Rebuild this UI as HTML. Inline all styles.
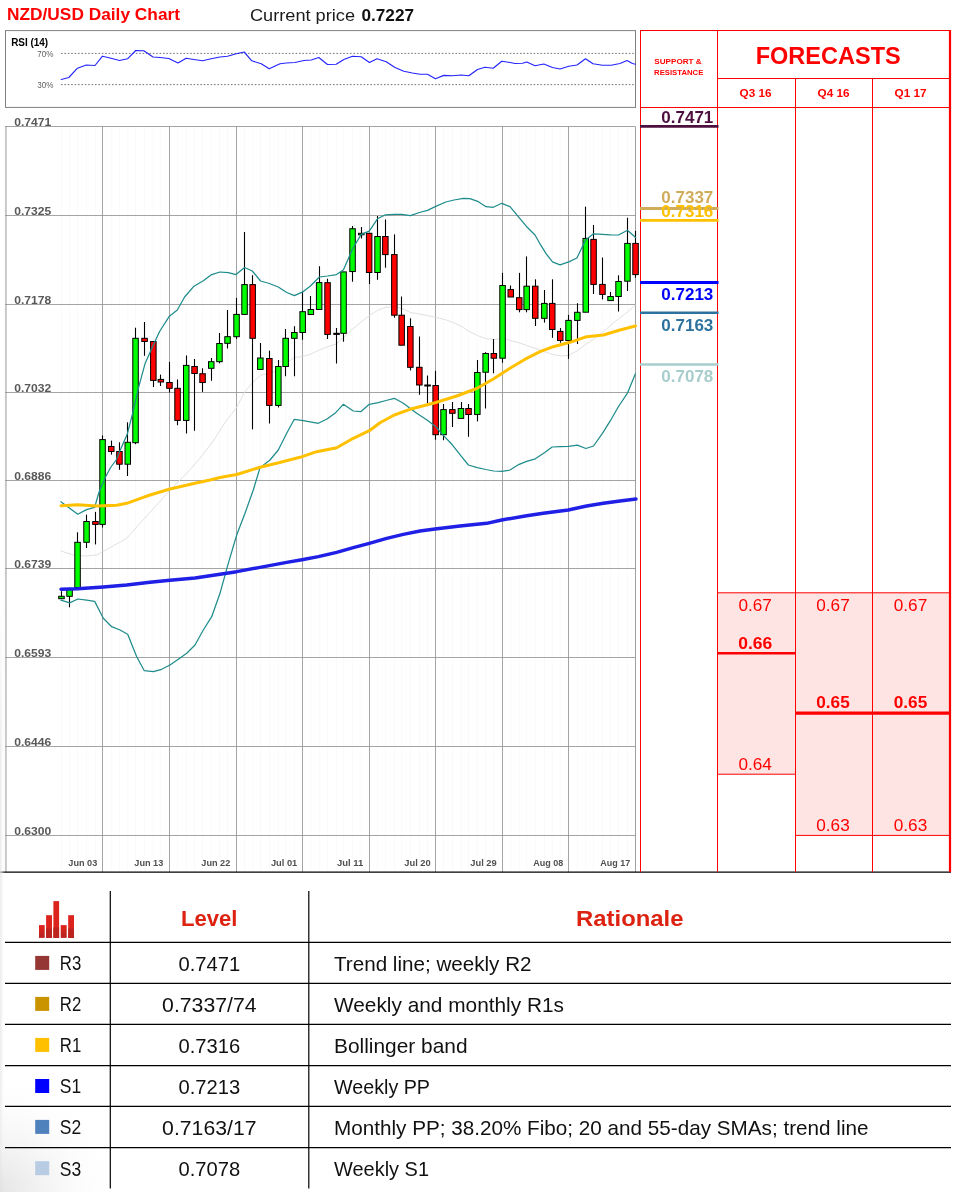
<!DOCTYPE html>
<html><head><meta charset="utf-8"><title>NZD/USD Daily Chart</title>
<style>
html,body{margin:0;padding:0;background:#fff;}
svg{display:block;font-family:"Liberation Sans", sans-serif;}
</style></head><body>
<svg width="960" height="1192" viewBox="0 0 960 1192">
<rect width="960" height="1192" fill="#fff"/>
<text x="7" y="20" font-size="15.8" fill="#ff0000" font-weight="bold" textLength="173" lengthAdjust="spacingAndGlyphs">NZD/USD Daily Chart</text>
<text x="250" y="20.5" font-size="16.2" fill="#1a1a1a" textLength="105" lengthAdjust="spacingAndGlyphs">Current price</text>
<text x="361.5" y="20.5" font-size="16.2" fill="#111" font-weight="bold" textLength="52.5" lengthAdjust="spacingAndGlyphs">0.7227</text>
<rect x="5.5" y="30.6" width="630.0" height="76.8" fill="#fff" stroke="#808080" stroke-width="1"/>
<line x1="61" y1="53.4" x2="635.5" y2="53.4" stroke="#666" stroke-width="0.9" stroke-dasharray="1.6 1.8"/>
<line x1="61" y1="84.6" x2="635.5" y2="84.6" stroke="#666" stroke-width="0.9" stroke-dasharray="1.6 1.8"/>
<text x="11.2" y="46.3" font-size="10.6" fill="#000" font-weight="bold" textLength="37" lengthAdjust="spacingAndGlyphs">RSI (14)</text>
<text x="37.2" y="56.9" font-size="8.9" fill="#606060" textLength="16.2" lengthAdjust="spacingAndGlyphs">70%</text>
<text x="37.2" y="87.9" font-size="8.9" fill="#606060" textLength="16.2" lengthAdjust="spacingAndGlyphs">30%</text>
<polyline points="61.2,79.5 68.8,77.5 77.5,68.2 86.2,65.0 95.0,65.5 102.5,56.2 110.0,58.0 119.5,60.5 127.5,58.8 135.8,50.5 143.8,50.8 153.0,57.0 160.0,57.5 168.8,58.5 178.0,63.0 186.2,58.2 193.8,59.5 202.5,60.8 211.2,58.8 220.0,57.0 227.5,56.2 236.2,53.8 244.2,52.0 251.8,60.8 261.2,63.8 269.2,68.8 280.0,63.8 286.2,63.0 295.0,62.5 303.8,60.5 311.2,60.0 318.8,57.5 327.5,64.5 336.2,64.2 343.8,59.5 352.5,56.2 361.2,56.8 369.5,62.5 377.0,58.8 386.2,61.8 395.0,67.5 403.8,71.2 412.5,73.0 420.0,74.2 427.5,74.2 435.5,78.8 443.8,75.4 452.5,75.8 461.2,75.0 468.8,75.8 477.5,69.5 485.0,67.2 493.2,68.2 501.8,61.2 510.0,62.5 515.0,63.5 522.5,63.2 526.8,62.0 535.0,65.8 543.8,64.0 552.5,67.5 560.0,69.0 568.8,66.2 577.0,65.0 585.5,58.8 593.0,63.8 602.5,65.2 611.2,65.2 620.0,63.5 627.0,60.5 632.5,63.5 635.5,64.2" fill="none" stroke="#2424ff" stroke-width="1.15" stroke-linejoin="round" stroke-linecap="round"/>
<line x1="61.5" y1="126.5" x2="61.5" y2="872.2" stroke="#fafafa" stroke-width="1"/>
<line x1="69.6" y1="126.5" x2="69.6" y2="872.2" stroke="#fafafa" stroke-width="1"/>
<line x1="77.5" y1="126.5" x2="77.5" y2="872.2" stroke="#fafafa" stroke-width="1"/>
<line x1="86.5" y1="126.5" x2="86.5" y2="872.2" stroke="#fafafa" stroke-width="1"/>
<line x1="95.4" y1="126.5" x2="95.4" y2="872.2" stroke="#fafafa" stroke-width="1"/>
<line x1="111.2" y1="126.5" x2="111.2" y2="872.2" stroke="#fafafa" stroke-width="1"/>
<line x1="119.4" y1="126.5" x2="119.4" y2="872.2" stroke="#fafafa" stroke-width="1"/>
<line x1="127.7" y1="126.5" x2="127.7" y2="872.2" stroke="#fafafa" stroke-width="1"/>
<line x1="135.5" y1="126.5" x2="135.5" y2="872.2" stroke="#fafafa" stroke-width="1"/>
<line x1="144.6" y1="126.5" x2="144.6" y2="872.2" stroke="#fafafa" stroke-width="1"/>
<line x1="153.3" y1="126.5" x2="153.3" y2="872.2" stroke="#fafafa" stroke-width="1"/>
<line x1="160.8" y1="126.5" x2="160.8" y2="872.2" stroke="#fafafa" stroke-width="1"/>
<line x1="177.5" y1="126.5" x2="177.5" y2="872.2" stroke="#fafafa" stroke-width="1"/>
<line x1="186.2" y1="126.5" x2="186.2" y2="872.2" stroke="#fafafa" stroke-width="1"/>
<line x1="194.6" y1="126.5" x2="194.6" y2="872.2" stroke="#fafafa" stroke-width="1"/>
<line x1="202.5" y1="126.5" x2="202.5" y2="872.2" stroke="#fafafa" stroke-width="1"/>
<line x1="211.2" y1="126.5" x2="211.2" y2="872.2" stroke="#fafafa" stroke-width="1"/>
<line x1="219.4" y1="126.5" x2="219.4" y2="872.2" stroke="#fafafa" stroke-width="1"/>
<line x1="227.5" y1="126.5" x2="227.5" y2="872.2" stroke="#fafafa" stroke-width="1"/>
<line x1="244.6" y1="126.5" x2="244.6" y2="872.2" stroke="#fafafa" stroke-width="1"/>
<line x1="252.7" y1="126.5" x2="252.7" y2="872.2" stroke="#fafafa" stroke-width="1"/>
<line x1="260.4" y1="126.5" x2="260.4" y2="872.2" stroke="#fafafa" stroke-width="1"/>
<line x1="269.4" y1="126.5" x2="269.4" y2="872.2" stroke="#fafafa" stroke-width="1"/>
<line x1="278.3" y1="126.5" x2="278.3" y2="872.2" stroke="#fafafa" stroke-width="1"/>
<line x1="285.6" y1="126.5" x2="285.6" y2="872.2" stroke="#fafafa" stroke-width="1"/>
<line x1="294.4" y1="126.5" x2="294.4" y2="872.2" stroke="#fafafa" stroke-width="1"/>
<line x1="310.8" y1="126.5" x2="310.8" y2="872.2" stroke="#fafafa" stroke-width="1"/>
<line x1="319.2" y1="126.5" x2="319.2" y2="872.2" stroke="#fafafa" stroke-width="1"/>
<line x1="327.5" y1="126.5" x2="327.5" y2="872.2" stroke="#fafafa" stroke-width="1"/>
<line x1="336.5" y1="126.5" x2="336.5" y2="872.2" stroke="#fafafa" stroke-width="1"/>
<line x1="343.5" y1="126.5" x2="343.5" y2="872.2" stroke="#fafafa" stroke-width="1"/>
<line x1="352.5" y1="126.5" x2="352.5" y2="872.2" stroke="#fafafa" stroke-width="1"/>
<line x1="361.2" y1="126.5" x2="361.2" y2="872.2" stroke="#fafafa" stroke-width="1"/>
<line x1="377.5" y1="126.5" x2="377.5" y2="872.2" stroke="#fafafa" stroke-width="1"/>
<line x1="385.4" y1="126.5" x2="385.4" y2="872.2" stroke="#fafafa" stroke-width="1"/>
<line x1="394.4" y1="126.5" x2="394.4" y2="872.2" stroke="#fafafa" stroke-width="1"/>
<line x1="401.7" y1="126.5" x2="401.7" y2="872.2" stroke="#fafafa" stroke-width="1"/>
<line x1="410.4" y1="126.5" x2="410.4" y2="872.2" stroke="#fafafa" stroke-width="1"/>
<line x1="419.4" y1="126.5" x2="419.4" y2="872.2" stroke="#fafafa" stroke-width="1"/>
<line x1="427.5" y1="126.5" x2="427.5" y2="872.2" stroke="#fafafa" stroke-width="1"/>
<line x1="443.5" y1="126.5" x2="443.5" y2="872.2" stroke="#fafafa" stroke-width="1"/>
<line x1="452.4" y1="126.5" x2="452.4" y2="872.2" stroke="#fafafa" stroke-width="1"/>
<line x1="461.0" y1="126.5" x2="461.0" y2="872.2" stroke="#fafafa" stroke-width="1"/>
<line x1="468.5" y1="126.5" x2="468.5" y2="872.2" stroke="#fafafa" stroke-width="1"/>
<line x1="477.3" y1="126.5" x2="477.3" y2="872.2" stroke="#fafafa" stroke-width="1"/>
<line x1="485.6" y1="126.5" x2="485.6" y2="872.2" stroke="#fafafa" stroke-width="1"/>
<line x1="493.8" y1="126.5" x2="493.8" y2="872.2" stroke="#fafafa" stroke-width="1"/>
<line x1="510.8" y1="126.5" x2="510.8" y2="872.2" stroke="#fafafa" stroke-width="1"/>
<line x1="519.2" y1="126.5" x2="519.2" y2="872.2" stroke="#fafafa" stroke-width="1"/>
<line x1="526.6" y1="126.5" x2="526.6" y2="872.2" stroke="#fafafa" stroke-width="1"/>
<line x1="535.3" y1="126.5" x2="535.3" y2="872.2" stroke="#fafafa" stroke-width="1"/>
<line x1="544.4" y1="126.5" x2="544.4" y2="872.2" stroke="#fafafa" stroke-width="1"/>
<line x1="552.2" y1="126.5" x2="552.2" y2="872.2" stroke="#fafafa" stroke-width="1"/>
<line x1="560.2" y1="126.5" x2="560.2" y2="872.2" stroke="#fafafa" stroke-width="1"/>
<line x1="577.4" y1="126.5" x2="577.4" y2="872.2" stroke="#fafafa" stroke-width="1"/>
<line x1="585.7" y1="126.5" x2="585.7" y2="872.2" stroke="#fafafa" stroke-width="1"/>
<line x1="593.5" y1="126.5" x2="593.5" y2="872.2" stroke="#fafafa" stroke-width="1"/>
<line x1="602.5" y1="126.5" x2="602.5" y2="872.2" stroke="#fafafa" stroke-width="1"/>
<line x1="610.5" y1="126.5" x2="610.5" y2="872.2" stroke="#fafafa" stroke-width="1"/>
<line x1="618.5" y1="126.5" x2="618.5" y2="872.2" stroke="#fafafa" stroke-width="1"/>
<line x1="627.5" y1="126.5" x2="627.5" y2="872.2" stroke="#fafafa" stroke-width="1"/>
<line x1="5.9" y1="126.0" x2="5.9" y2="872.2" stroke="#c9c9c9" stroke-width="2"/>
<line x1="635.5" y1="126.5" x2="635.5" y2="872.2" stroke="#a0a0a0" stroke-width="1"/>
<line x1="5" y1="126.5" x2="635.5" y2="126.5" stroke="#949494" stroke-width="0.85"/>
<line x1="5" y1="215.5" x2="635.5" y2="215.5" stroke="#949494" stroke-width="0.85"/>
<line x1="5" y1="304.5" x2="635.5" y2="304.5" stroke="#949494" stroke-width="0.85"/>
<line x1="5" y1="392.5" x2="635.5" y2="392.5" stroke="#949494" stroke-width="0.85"/>
<line x1="5" y1="480.5" x2="635.5" y2="480.5" stroke="#949494" stroke-width="0.85"/>
<line x1="5" y1="568.5" x2="635.5" y2="568.5" stroke="#949494" stroke-width="0.85"/>
<line x1="5" y1="657.5" x2="635.5" y2="657.5" stroke="#949494" stroke-width="0.85"/>
<line x1="5" y1="746.5" x2="635.5" y2="746.5" stroke="#949494" stroke-width="0.85"/>
<line x1="5" y1="835.5" x2="635.5" y2="835.5" stroke="#949494" stroke-width="0.85"/>
<line x1="102.5" y1="126.5" x2="102.5" y2="872.2" stroke="#949494" stroke-width="0.85"/>
<line x1="169.5" y1="126.5" x2="169.5" y2="872.2" stroke="#949494" stroke-width="0.85"/>
<line x1="236.5" y1="126.5" x2="236.5" y2="872.2" stroke="#949494" stroke-width="0.85"/>
<line x1="302.5" y1="126.5" x2="302.5" y2="872.2" stroke="#949494" stroke-width="0.85"/>
<line x1="369.5" y1="126.5" x2="369.5" y2="872.2" stroke="#949494" stroke-width="0.85"/>
<line x1="435.5" y1="126.5" x2="435.5" y2="872.2" stroke="#949494" stroke-width="0.85"/>
<line x1="502.5" y1="126.5" x2="502.5" y2="872.2" stroke="#949494" stroke-width="0.85"/>
<line x1="568.5" y1="126.5" x2="568.5" y2="872.2" stroke="#949494" stroke-width="0.85"/>
<text x="14.2" y="125.6" font-size="11.4" fill="#595959" font-weight="bold" textLength="37" lengthAdjust="spacingAndGlyphs">0.7471</text>
<text x="14.2" y="214.6" font-size="11.4" fill="#595959" font-weight="bold" textLength="37" lengthAdjust="spacingAndGlyphs">0.7325</text>
<text x="14.2" y="303.6" font-size="11.4" fill="#595959" font-weight="bold" textLength="37" lengthAdjust="spacingAndGlyphs">0.7178</text>
<text x="14.2" y="391.6" font-size="11.4" fill="#595959" font-weight="bold" textLength="37" lengthAdjust="spacingAndGlyphs">0.7032</text>
<text x="14.2" y="479.6" font-size="11.4" fill="#595959" font-weight="bold" textLength="37" lengthAdjust="spacingAndGlyphs">0.6886</text>
<text x="14.2" y="567.6" font-size="11.4" fill="#595959" font-weight="bold" textLength="37" lengthAdjust="spacingAndGlyphs">0.6739</text>
<text x="14.2" y="656.6" font-size="11.4" fill="#595959" font-weight="bold" textLength="37" lengthAdjust="spacingAndGlyphs">0.6593</text>
<text x="14.2" y="745.6" font-size="11.4" fill="#595959" font-weight="bold" textLength="37" lengthAdjust="spacingAndGlyphs">0.6446</text>
<text x="14.2" y="834.6" font-size="11.4" fill="#595959" font-weight="bold" textLength="37" lengthAdjust="spacingAndGlyphs">0.6300</text>
<text x="97.3" y="866" font-size="9.6" fill="#505050" font-weight="bold" text-anchor="end" textLength="29" lengthAdjust="spacingAndGlyphs">Jun 03</text>
<text x="163.3" y="866" font-size="9.6" fill="#505050" font-weight="bold" text-anchor="end" textLength="29" lengthAdjust="spacingAndGlyphs">Jun 13</text>
<text x="230.3" y="866" font-size="9.6" fill="#505050" font-weight="bold" text-anchor="end" textLength="29" lengthAdjust="spacingAndGlyphs">Jun 22</text>
<text x="297.3" y="866" font-size="9.6" fill="#505050" font-weight="bold" text-anchor="end" textLength="26.4" lengthAdjust="spacingAndGlyphs">Jul 01</text>
<text x="363.3" y="866" font-size="9.6" fill="#505050" font-weight="bold" text-anchor="end" textLength="26.4" lengthAdjust="spacingAndGlyphs">Jul 11</text>
<text x="430.7" y="866" font-size="9.6" fill="#505050" font-weight="bold" text-anchor="end" textLength="26.4" lengthAdjust="spacingAndGlyphs">Jul 20</text>
<text x="496.7" y="866" font-size="9.6" fill="#505050" font-weight="bold" text-anchor="end" textLength="26.4" lengthAdjust="spacingAndGlyphs">Jul 29</text>
<text x="563.3" y="866" font-size="9.6" fill="#505050" font-weight="bold" text-anchor="end" textLength="30" lengthAdjust="spacingAndGlyphs">Aug 08</text>
<text x="630.3" y="866" font-size="9.6" fill="#505050" font-weight="bold" text-anchor="end" textLength="30" lengthAdjust="spacingAndGlyphs">Aug 17</text>
<polyline points="61.0,551.0 73.3,555.0 86.7,556.0 96.7,555.0 110.0,547.7 126.7,538.3 140.0,523.3 156.7,505.0 170.0,490.0 186.7,473.3 200.0,458.3 213.3,441.0 226.7,420.0 236.7,407.5 244.6,391.9 252.7,382.5 260.6,375.2 269.4,373.5 278.3,370.0 286.7,362.7 294.4,357.5 302.7,356.5 310.4,354.2 319.4,350.0 327.5,346.9 336.5,343.8 343.5,337.5 352.5,329.2 361.2,321.9 369.2,315.6 377.5,310.4 385.4,307.3 394.4,306.7 401.7,308.3 410.4,312.5 419.4,314.0 427.5,315.6 435.8,317.3 445.8,319.8 454.2,322.9 462.5,327.0 468.8,331.2 477.3,335.4 485.4,338.5 493.8,339.6 502.5,338.2 519.2,342.8 535.3,348.5 552.2,354.3 560.2,355.9 568.5,355.4 577.4,350.8 585.9,344.0 593.5,339.4 602.4,332.5 610.4,325.6 618.5,318.8 627.4,311.9 635.4,305.0" fill="none" stroke="#dddddd" stroke-width="0.9" stroke-linejoin="round" stroke-linecap="round"/>
<line x1="61.5" y1="591.2" x2="61.5" y2="598.7" stroke="#000" stroke-width="1.1"/>
<rect x="58.7" y="596.3" width="5.5" height="2.4" fill="#00ff00" stroke="#000" stroke-width="1"/>
<line x1="69.5" y1="588.5" x2="69.5" y2="607.3" stroke="#000" stroke-width="1.1"/>
<rect x="66.8" y="588.5" width="5.5" height="7.8" fill="#00ff00" stroke="#000" stroke-width="1"/>
<line x1="77.5" y1="532.3" x2="77.5" y2="587.5" stroke="#000" stroke-width="1.1"/>
<rect x="74.8" y="542.3" width="5.5" height="45.2" fill="#00ff00" stroke="#000" stroke-width="1"/>
<line x1="86.5" y1="514.6" x2="86.5" y2="548" stroke="#000" stroke-width="1.1"/>
<rect x="83.8" y="521.5" width="5.5" height="20.8" fill="#00ff00" stroke="#000" stroke-width="1"/>
<line x1="95.5" y1="511.9" x2="95.5" y2="544.4" stroke="#000" stroke-width="1.1"/>
<rect x="92.7" y="521.5" width="5.5" height="2.9" fill="#ff0000" stroke="#000" stroke-width="1"/>
<line x1="102.5" y1="435.4" x2="102.5" y2="527.5" stroke="#000" stroke-width="1.1"/>
<rect x="99.8" y="439.6" width="5.5" height="84.8" fill="#00ff00" stroke="#000" stroke-width="1"/>
<line x1="111.5" y1="440.6" x2="111.5" y2="454.6" stroke="#000" stroke-width="1.1"/>
<rect x="108.5" y="446.5" width="5.5" height="5.0" fill="#ff0000" stroke="#000" stroke-width="1"/>
<line x1="119.5" y1="442.3" x2="119.5" y2="469.8" stroke="#000" stroke-width="1.1"/>
<rect x="116.7" y="451.5" width="5.5" height="12.7" fill="#ff0000" stroke="#000" stroke-width="1"/>
<line x1="127.5" y1="422.3" x2="127.5" y2="476" stroke="#000" stroke-width="1.1"/>
<rect x="125.0" y="442.3" width="5.5" height="21.9" fill="#00ff00" stroke="#000" stroke-width="1"/>
<line x1="135.5" y1="327.7" x2="135.5" y2="444.2" stroke="#000" stroke-width="1.1"/>
<rect x="132.8" y="338.3" width="5.5" height="104.4" fill="#00ff00" stroke="#000" stroke-width="1"/>
<line x1="144.5" y1="322" x2="144.5" y2="355.8" stroke="#000" stroke-width="1.1"/>
<rect x="141.8" y="338.3" width="5.5" height="3.2" fill="#ff0000" stroke="#000" stroke-width="1"/>
<line x1="153.5" y1="341.5" x2="153.5" y2="387" stroke="#000" stroke-width="1.1"/>
<rect x="150.6" y="341.5" width="5.5" height="38.9" fill="#ff0000" stroke="#000" stroke-width="1"/>
<line x1="160.5" y1="374.6" x2="160.5" y2="386" stroke="#000" stroke-width="1.1"/>
<rect x="158.1" y="379.4" width="5.5" height="2.6" fill="#ff0000" stroke="#000" stroke-width="1"/>
<line x1="169.5" y1="362" x2="169.5" y2="392.5" stroke="#000" stroke-width="1.1"/>
<rect x="166.7" y="382.5" width="5.5" height="5.8" fill="#ff0000" stroke="#000" stroke-width="1"/>
<line x1="177.5" y1="379.4" x2="177.5" y2="425.2" stroke="#000" stroke-width="1.1"/>
<rect x="174.8" y="388.3" width="5.5" height="32.1" fill="#ff0000" stroke="#000" stroke-width="1"/>
<line x1="186.5" y1="355.4" x2="186.5" y2="433.5" stroke="#000" stroke-width="1.1"/>
<rect x="183.5" y="365.4" width="5.5" height="55.0" fill="#00ff00" stroke="#000" stroke-width="1"/>
<line x1="194.5" y1="359" x2="194.5" y2="430.8" stroke="#000" stroke-width="1.1"/>
<rect x="191.8" y="366.5" width="5.5" height="7.0" fill="#ff0000" stroke="#000" stroke-width="1"/>
<line x1="202.5" y1="368.3" x2="202.5" y2="391.9" stroke="#000" stroke-width="1.1"/>
<rect x="199.8" y="373.75" width="5.5" height="8.8" fill="#ff0000" stroke="#000" stroke-width="1"/>
<line x1="211.5" y1="358" x2="211.5" y2="380.8" stroke="#000" stroke-width="1.1"/>
<rect x="208.5" y="361.7" width="5.5" height="6.6" fill="#00ff00" stroke="#000" stroke-width="1"/>
<line x1="219.5" y1="333" x2="219.5" y2="363.3" stroke="#000" stroke-width="1.1"/>
<rect x="216.7" y="343.5" width="5.5" height="18.2" fill="#00ff00" stroke="#000" stroke-width="1"/>
<line x1="227.5" y1="310" x2="227.5" y2="348.5" stroke="#000" stroke-width="1.1"/>
<rect x="224.8" y="336.7" width="5.5" height="6.6" fill="#00ff00" stroke="#000" stroke-width="1"/>
<line x1="236.5" y1="298" x2="236.5" y2="339" stroke="#000" stroke-width="1.1"/>
<rect x="233.8" y="314.4" width="5.5" height="22.3" fill="#00ff00" stroke="#000" stroke-width="1"/>
<line x1="244.5" y1="232" x2="244.5" y2="314.4" stroke="#000" stroke-width="1.1"/>
<rect x="241.8" y="284.6" width="5.5" height="29.8" fill="#00ff00" stroke="#000" stroke-width="1"/>
<line x1="252.5" y1="275.2" x2="252.5" y2="429.4" stroke="#000" stroke-width="1.1"/>
<rect x="249.9" y="284.6" width="5.5" height="53.7" fill="#ff0000" stroke="#000" stroke-width="1"/>
<line x1="260.5" y1="343" x2="260.5" y2="369.4" stroke="#000" stroke-width="1.1"/>
<rect x="257.6" y="358" width="5.5" height="11.4" fill="#00ff00" stroke="#000" stroke-width="1"/>
<line x1="269.5" y1="350.6" x2="269.5" y2="423.5" stroke="#000" stroke-width="1.1"/>
<rect x="266.6" y="358.5" width="5.5" height="46.9" fill="#ff0000" stroke="#000" stroke-width="1"/>
<line x1="278.5" y1="360" x2="278.5" y2="407.5" stroke="#000" stroke-width="1.1"/>
<rect x="275.6" y="366.5" width="5.5" height="38.9" fill="#00ff00" stroke="#000" stroke-width="1"/>
<line x1="285.5" y1="329" x2="285.5" y2="376.25" stroke="#000" stroke-width="1.1"/>
<rect x="282.9" y="338.3" width="5.5" height="28.2" fill="#00ff00" stroke="#000" stroke-width="1"/>
<line x1="294.5" y1="326.25" x2="294.5" y2="376.25" stroke="#000" stroke-width="1.1"/>
<rect x="291.6" y="332.5" width="5.5" height="5.8" fill="#00ff00" stroke="#000" stroke-width="1"/>
<line x1="302.5" y1="291.9" x2="302.5" y2="339.8" stroke="#000" stroke-width="1.1"/>
<rect x="299.9" y="311.7" width="5.5" height="20.8" fill="#00ff00" stroke="#000" stroke-width="1"/>
<line x1="310.5" y1="296" x2="310.5" y2="314.5" stroke="#000" stroke-width="1.1"/>
<rect x="308.1" y="309.5" width="5.5" height="5.0" fill="#00ff00" stroke="#000" stroke-width="1"/>
<line x1="319.5" y1="266.25" x2="319.5" y2="309.5" stroke="#000" stroke-width="1.1"/>
<rect x="316.4" y="282.6" width="5.5" height="26.9" fill="#00ff00" stroke="#000" stroke-width="1"/>
<line x1="327.5" y1="278.75" x2="327.5" y2="339" stroke="#000" stroke-width="1.1"/>
<rect x="324.8" y="282.7" width="5.5" height="51.7" fill="#ff0000" stroke="#000" stroke-width="1"/>
<line x1="336.5" y1="328" x2="336.5" y2="363.5" stroke="#000" stroke-width="1.1"/>
<rect x="333.8" y="333.3" width="5.5" height="1.1" fill="#000" stroke="#000" stroke-width="1"/>
<line x1="343.5" y1="271.9" x2="343.5" y2="341.7" stroke="#000" stroke-width="1.1"/>
<rect x="340.8" y="271.9" width="5.5" height="61.4" fill="#00ff00" stroke="#000" stroke-width="1"/>
<line x1="352.5" y1="226" x2="352.5" y2="281.7" stroke="#000" stroke-width="1.1"/>
<rect x="349.8" y="228.75" width="5.5" height="42.8" fill="#00ff00" stroke="#000" stroke-width="1"/>
<line x1="361.5" y1="227" x2="361.5" y2="238.5" stroke="#000" stroke-width="1.1"/>
<rect x="358.5" y="233.3" width="5.5" height="1.5" fill="#00ff00" stroke="#000" stroke-width="1"/>
<line x1="369.5" y1="233.3" x2="369.5" y2="284" stroke="#000" stroke-width="1.1"/>
<rect x="366.4" y="233.3" width="5.5" height="39.2" fill="#ff0000" stroke="#000" stroke-width="1"/>
<line x1="377.5" y1="216" x2="377.5" y2="279.8" stroke="#000" stroke-width="1.1"/>
<rect x="374.8" y="236.5" width="5.5" height="36.0" fill="#00ff00" stroke="#000" stroke-width="1"/>
<line x1="385.5" y1="219.4" x2="385.5" y2="267.7" stroke="#000" stroke-width="1.1"/>
<rect x="382.6" y="236.5" width="5.5" height="18.1" fill="#ff0000" stroke="#000" stroke-width="1"/>
<line x1="394.5" y1="234.4" x2="394.5" y2="317.7" stroke="#000" stroke-width="1.1"/>
<rect x="391.6" y="254.6" width="5.5" height="60.6" fill="#ff0000" stroke="#000" stroke-width="1"/>
<line x1="401.5" y1="296.5" x2="401.5" y2="345.2" stroke="#000" stroke-width="1.1"/>
<rect x="398.9" y="315.2" width="5.5" height="30.0" fill="#ff0000" stroke="#000" stroke-width="1"/>
<line x1="410.5" y1="318.3" x2="410.5" y2="370.4" stroke="#000" stroke-width="1.1"/>
<rect x="407.6" y="326.5" width="5.5" height="40.8" fill="#ff0000" stroke="#000" stroke-width="1"/>
<line x1="419.5" y1="336.5" x2="419.5" y2="394.8" stroke="#000" stroke-width="1.1"/>
<rect x="416.6" y="367.3" width="5.5" height="17.7" fill="#ff0000" stroke="#000" stroke-width="1"/>
<line x1="427.5" y1="375.5" x2="427.5" y2="403.2" stroke="#000" stroke-width="1.1"/>
<rect x="424.8" y="385" width="5.5" height="1.0" fill="#000" stroke="#000" stroke-width="1"/>
<line x1="435.5" y1="370.8" x2="435.5" y2="439.75" stroke="#000" stroke-width="1.1"/>
<rect x="432.9" y="385.5" width="5.5" height="49.2" fill="#ff0000" stroke="#000" stroke-width="1"/>
<line x1="443.5" y1="404" x2="443.5" y2="440.2" stroke="#000" stroke-width="1.1"/>
<rect x="440.8" y="409.6" width="5.5" height="25.1" fill="#00ff00" stroke="#000" stroke-width="1"/>
<line x1="452.5" y1="402" x2="452.5" y2="427" stroke="#000" stroke-width="1.1"/>
<rect x="449.6" y="409.6" width="5.5" height="3.7" fill="#ff0000" stroke="#000" stroke-width="1"/>
<line x1="461.5" y1="402" x2="461.5" y2="418.4" stroke="#000" stroke-width="1.1"/>
<rect x="458.2" y="408.5" width="5.5" height="9.9" fill="#00ff00" stroke="#000" stroke-width="1"/>
<line x1="468.5" y1="404" x2="468.5" y2="436.8" stroke="#000" stroke-width="1.1"/>
<rect x="465.8" y="408.5" width="5.5" height="6.0" fill="#ff0000" stroke="#000" stroke-width="1"/>
<line x1="477.5" y1="360" x2="477.5" y2="421.4" stroke="#000" stroke-width="1.1"/>
<rect x="474.6" y="372.5" width="5.5" height="41.9" fill="#00ff00" stroke="#000" stroke-width="1"/>
<line x1="485.5" y1="352.2" x2="485.5" y2="408.5" stroke="#000" stroke-width="1.1"/>
<rect x="482.9" y="353.5" width="5.5" height="18.7" fill="#00ff00" stroke="#000" stroke-width="1"/>
<line x1="493.5" y1="339" x2="493.5" y2="373.3" stroke="#000" stroke-width="1.1"/>
<rect x="491.1" y="353.5" width="5.5" height="4.7" fill="#ff0000" stroke="#000" stroke-width="1"/>
<line x1="502.5" y1="272.9" x2="502.5" y2="362.75" stroke="#000" stroke-width="1.1"/>
<rect x="499.8" y="285.5" width="5.5" height="72.7" fill="#00ff00" stroke="#000" stroke-width="1"/>
<line x1="510.5" y1="285.5" x2="510.5" y2="297" stroke="#000" stroke-width="1.1"/>
<rect x="508.0" y="289.6" width="5.5" height="7.4" fill="#ff0000" stroke="#000" stroke-width="1"/>
<line x1="519.5" y1="272.9" x2="519.5" y2="312.3" stroke="#000" stroke-width="1.1"/>
<rect x="516.5" y="297.7" width="5.5" height="11.9" fill="#ff0000" stroke="#000" stroke-width="1"/>
<line x1="526.5" y1="256.4" x2="526.5" y2="312.3" stroke="#000" stroke-width="1.1"/>
<rect x="523.9" y="286.2" width="5.5" height="23.4" fill="#00ff00" stroke="#000" stroke-width="1"/>
<line x1="535.5" y1="279.3" x2="535.5" y2="326" stroke="#000" stroke-width="1.1"/>
<rect x="532.5" y="286.2" width="5.5" height="32.1" fill="#ff0000" stroke="#000" stroke-width="1"/>
<line x1="544.5" y1="290" x2="544.5" y2="322.6" stroke="#000" stroke-width="1.1"/>
<rect x="541.6" y="303.4" width="5.5" height="14.9" fill="#00ff00" stroke="#000" stroke-width="1"/>
<line x1="552.5" y1="279.3" x2="552.5" y2="337.8" stroke="#000" stroke-width="1.1"/>
<rect x="549.5" y="303.4" width="5.5" height="26.1" fill="#ff0000" stroke="#000" stroke-width="1"/>
<line x1="560.5" y1="328" x2="560.5" y2="342.8" stroke="#000" stroke-width="1.1"/>
<rect x="557.5" y="331.4" width="5.5" height="9.1" fill="#ff0000" stroke="#000" stroke-width="1"/>
<line x1="568.5" y1="314.9" x2="568.5" y2="358.9" stroke="#000" stroke-width="1.1"/>
<rect x="565.8" y="320.4" width="5.5" height="20.1" fill="#00ff00" stroke="#000" stroke-width="1"/>
<line x1="577.5" y1="303.2" x2="577.5" y2="344" stroke="#000" stroke-width="1.1"/>
<rect x="574.6" y="312.3" width="5.5" height="8.1" fill="#00ff00" stroke="#000" stroke-width="1"/>
<line x1="585.5" y1="206.6" x2="585.5" y2="312.25" stroke="#000" stroke-width="1.1"/>
<rect x="583.0" y="238.4" width="5.5" height="73.8" fill="#00ff00" stroke="#000" stroke-width="1"/>
<line x1="593.5" y1="225" x2="593.5" y2="294" stroke="#000" stroke-width="1.1"/>
<rect x="590.8" y="239.4" width="5.5" height="45.0" fill="#ff0000" stroke="#000" stroke-width="1"/>
<line x1="602.5" y1="257.5" x2="602.5" y2="299.4" stroke="#000" stroke-width="1.1"/>
<rect x="599.7" y="284.4" width="5.5" height="10.0" fill="#ff0000" stroke="#000" stroke-width="1"/>
<line x1="610.5" y1="291.9" x2="610.5" y2="300.6" stroke="#000" stroke-width="1.1"/>
<rect x="607.8" y="296.5" width="5.5" height="4.1" fill="#00ff00" stroke="#000" stroke-width="1"/>
<line x1="618.5" y1="275.25" x2="618.5" y2="311.5" stroke="#000" stroke-width="1.1"/>
<rect x="615.8" y="281.5" width="5.5" height="15.0" fill="#00ff00" stroke="#000" stroke-width="1"/>
<line x1="627.5" y1="217.75" x2="627.5" y2="291" stroke="#000" stroke-width="1.1"/>
<rect x="624.7" y="243.4" width="5.5" height="37.8" fill="#00ff00" stroke="#000" stroke-width="1"/>
<line x1="635.5" y1="230.9" x2="635.5" y2="277.75" stroke="#000" stroke-width="1.1"/>
<rect x="632.8" y="243.4" width="5.5" height="31.2" fill="#ff0000" stroke="#000" stroke-width="1"/>
<polyline points="60.9,501.8 70.0,508.5 77.8,514.2 86.5,509.6 94.7,507.4 98.0,495.5 99.4,491.2 105.0,478.0 110.6,467.5 116.2,460.0 119.0,453.0 127.3,434.0 132.5,413.8 138.8,386.7 145.0,363.8 153.3,345.0 159.6,331.5 169.4,316.2 177.3,310.0 184.6,297.0 194.0,286.2 203.3,280.8 211.7,274.6 220.0,272.0 228.3,272.7 236.0,274.6 244.6,267.5 252.3,271.0 260.6,281.0 269.4,283.5 278.3,287.0 286.7,292.5 294.4,295.6 302.7,291.9 310.4,286.0 319.4,277.0 327.5,276.0 336.5,274.6 343.5,269.8 352.5,249.0 361.2,234.4 369.2,231.2 377.5,218.8 385.4,214.8 394.4,214.4 401.7,214.4 410.4,215.6 419.4,212.5 427.5,210.4 435.8,206.4 445.8,202.0 454.0,200.0 463.3,198.3 470.0,198.7 478.3,201.7 486.0,206.7 493.3,207.3 501.7,203.3 510.0,206.7 518.3,216.7 526.7,226.7 535.0,235.0 540.0,243.8 546.2,253.8 552.5,261.9 560.0,264.8 568.8,261.9 576.9,258.0 585.6,240.0 593.5,233.8 602.5,234.4 610.6,234.8 618.5,235.0 627.5,230.2 635.6,237.5" fill="none" stroke="#1f8c8c" stroke-width="1.25" stroke-linejoin="round" stroke-linecap="round"/>
<polyline points="60.9,600.1 69.6,602.9 77.8,599.0 86.7,600.2 94.7,601.4 103.3,618.3 111.7,626.7 120.0,630.0 127.7,634.3 136.7,656.7 144.3,670.7 153.3,671.7 161.7,669.3 170.0,665.0 178.3,659.3 186.7,653.3 195.0,645.0 203.3,630.0 211.7,616.7 220.0,593.3 228.3,563.3 236.7,535.0 245.0,513.3 253.3,490.0 260.0,467.7 270.0,460.0 278.3,450.0 286.7,433.3 294.3,419.3 303.3,420.7 318.3,423.3 327.0,419.0 335.0,413.3 343.3,404.3 353.3,411.0 360.7,411.7 369.3,404.3 378.3,402.7 386.0,400.5 394.3,398.3 403.3,403.3 416.7,413.3 427.0,420.0 435.6,426.5 443.6,435.6 452.3,444.8 461.2,456.2 468.4,465.0 477.3,467.7 485.8,469.5 493.8,471.0 501.7,471.3 510.0,470.0 519.2,464.3 526.6,461.3 535.3,458.8 544.4,452.8 552.2,447.0 560.2,446.6 568.5,446.4 577.4,445.2 585.9,448.5 593.5,446.0 602.4,433.3 610.4,420.7 618.5,406.5 627.4,393.2 635.4,373.8" fill="none" stroke="#1f8c8c" stroke-width="1.25" stroke-linejoin="round" stroke-linecap="round"/>
<polyline points="61.0,505.7 77.7,504.7 96.7,506.0 116.7,505.3 126.7,503.3 143.3,497.3 150.0,495.0 170.0,489.0 195.0,483.2 210.0,480.0 220.0,477.5 236.7,474.5 260.0,467.3 276.7,463.3 300.0,457.3 316.7,451.7 336.7,447.7 353.3,438.3 369.3,430.7 380.0,422.7 394.3,415.0 410.0,409.3 435.0,402.7 456.7,396.0 476.7,388.5 493.3,379.0 510.0,368.3 526.7,358.3 540.0,351.7 553.3,346.7 570.0,342.3 586.7,336.7 603.3,335.0 620.0,330.0 635.4,326.0" fill="none" stroke="#ffc000" stroke-width="3.0" stroke-linejoin="round" stroke-linecap="round"/>
<polyline points="61.0,589.3 77.7,588.7 103.3,587.0 126.7,585.0 150.0,582.3 170.0,580.3 195.0,578.0 220.0,574.3 236.7,571.7 260.0,567.3 286.7,562.3 303.3,559.5 318.3,556.7 336.7,552.3 353.3,547.7 369.3,543.3 386.7,538.3 403.3,534.3 420.0,531.0 435.0,529.0 460.0,526.0 486.7,523.3 501.7,520.0 526.7,515.7 543.3,513.3 568.3,510.0 586.7,506.0 603.3,503.3 620.0,501.0 636.0,499.0" fill="none" stroke="#1f1fe6" stroke-width="3.4" stroke-linejoin="round" stroke-linecap="round"/>
<line x1="0" y1="872.2" x2="951" y2="872.2" stroke="#000" stroke-width="1.3"/>
<rect x="717.5" y="592.8" width="78.0" height="181.4" fill="#ffe4e4" stroke="#ff0000" stroke-width="1"/>
<rect x="795.5" y="592.8" width="77.0" height="242.6" fill="#ffe4e4" stroke="#ff0000" stroke-width="1"/>
<rect x="872.5" y="592.8" width="77.5" height="242.6" fill="#ffe4e4" stroke="#ff0000" stroke-width="1"/>
<line x1="640.0" y1="30.5" x2="951" y2="30.5" stroke="#ff0000" stroke-width="1"/>
<line x1="640.5" y1="30" x2="640.5" y2="872.2" stroke="#ff0000" stroke-width="1"/>
<line x1="717.5" y1="30" x2="717.5" y2="872.2" stroke="#ff0000" stroke-width="1"/>
<line x1="795.5" y1="78.5" x2="795.5" y2="872.2" stroke="#ff0000" stroke-width="1"/>
<line x1="872.5" y1="78.5" x2="872.5" y2="872.2" stroke="#ff0000" stroke-width="1"/>
<line x1="950" y1="30" x2="950" y2="872.2" stroke="#ff0000" stroke-width="2.2"/>
<line x1="717.5" y1="78.5" x2="950" y2="78.5" stroke="#ff0000" stroke-width="1"/>
<line x1="640.5" y1="107.5" x2="950" y2="107.5" stroke="#ff0000" stroke-width="1"/>
<text x="828.2" y="64" font-size="24.8" fill="#ff0000" font-weight="bold" text-anchor="middle" textLength="145" lengthAdjust="spacingAndGlyphs">FORECASTS</text>
<text x="678" y="63.7" font-size="7.2" fill="#ff0000" font-weight="bold" text-anchor="middle" textLength="47.4" lengthAdjust="spacingAndGlyphs">SUPPORT &amp;</text>
<text x="678.7" y="75.3" font-size="7.2" fill="#ff0000" font-weight="bold" text-anchor="middle" textLength="49.3" lengthAdjust="spacingAndGlyphs">RESISTANCE</text>
<text x="755.5" y="96.6" font-size="11.2" fill="#ff0000" font-weight="bold" text-anchor="middle" textLength="32" lengthAdjust="spacingAndGlyphs">Q3 16</text>
<text x="833.5" y="96.6" font-size="11.2" fill="#ff0000" font-weight="bold" text-anchor="middle" textLength="32" lengthAdjust="spacingAndGlyphs">Q4 16</text>
<text x="910.5" y="96.6" font-size="11.2" fill="#ff0000" font-weight="bold" text-anchor="middle" textLength="32" lengthAdjust="spacingAndGlyphs">Q1 17</text>
<line x1="640.0" y1="126.3" x2="718.5" y2="126.3" stroke="#4d0f3d" stroke-width="2.8"/>
<text x="713.3" y="123.2" font-size="17.2" fill="#4d0f3d" font-weight="bold" text-anchor="end" textLength="52" lengthAdjust="spacingAndGlyphs">0.7471</text>
<line x1="640.0" y1="208.5" x2="718.5" y2="208.5" stroke="#d0ac5a" stroke-width="2.8"/>
<text x="713.3" y="203.3" font-size="17.2" fill="#d0ac5a" font-weight="bold" text-anchor="end" textLength="52" lengthAdjust="spacingAndGlyphs">0.7337</text>
<line x1="640.0" y1="220.3" x2="718.5" y2="220.3" stroke="#ffc000" stroke-width="2.8"/>
<text x="713.3" y="216.7" font-size="17.2" fill="#ffc000" font-weight="bold" text-anchor="end" textLength="52" lengthAdjust="spacingAndGlyphs">0.7316</text>
<line x1="640.0" y1="282.5" x2="718.5" y2="282.5" stroke="#0000ff" stroke-width="2.8"/>
<text x="713.3" y="300.3" font-size="17.2" fill="#0000ff" font-weight="bold" text-anchor="end" textLength="52" lengthAdjust="spacingAndGlyphs">0.7213</text>
<line x1="640.0" y1="312.8" x2="718.5" y2="312.8" stroke="#2d729e" stroke-width="2.5"/>
<text x="713.3" y="330.7" font-size="17.2" fill="#2d729e" font-weight="bold" text-anchor="end" textLength="52" lengthAdjust="spacingAndGlyphs">0.7163</text>
<line x1="640.0" y1="364.6" x2="718.5" y2="364.6" stroke="#a8cdcd" stroke-width="2.5"/>
<text x="713.3" y="381.8" font-size="17.2" fill="#a8cdcd" font-weight="bold" text-anchor="end" textLength="52" lengthAdjust="spacingAndGlyphs">0.7078</text>
<line x1="717.5" y1="653.2" x2="795.5" y2="653.2" stroke="#ff0000" stroke-width="2.4"/>
<line x1="795.5" y1="713.2" x2="950" y2="713.2" stroke="#ff0000" stroke-width="3.2"/>
<text x="755.2" y="610.6" font-size="16.4" fill="#ff0000" text-anchor="middle" textLength="33.5" lengthAdjust="spacingAndGlyphs">0.67</text>
<text x="833.0" y="610.6" font-size="16.4" fill="#ff0000" text-anchor="middle" textLength="33.5" lengthAdjust="spacingAndGlyphs">0.67</text>
<text x="910.5" y="610.6" font-size="16.4" fill="#ff0000" text-anchor="middle" textLength="33.5" lengthAdjust="spacingAndGlyphs">0.67</text>
<text x="755.2" y="648.8" font-size="16.4" fill="#ff0000" font-weight="bold" text-anchor="middle" textLength="34" lengthAdjust="spacingAndGlyphs">0.66</text>
<text x="833.0" y="708.4" font-size="16.4" fill="#ff0000" font-weight="bold" text-anchor="middle" textLength="33.5" lengthAdjust="spacingAndGlyphs">0.65</text>
<text x="910.5" y="708.4" font-size="16.4" fill="#ff0000" font-weight="bold" text-anchor="middle" textLength="33.5" lengthAdjust="spacingAndGlyphs">0.65</text>
<text x="755.2" y="770" font-size="16.4" fill="#ff0000" text-anchor="middle" textLength="33.5" lengthAdjust="spacingAndGlyphs">0.64</text>
<text x="833.0" y="831.3" font-size="16.4" fill="#ff0000" text-anchor="middle" textLength="33.5" lengthAdjust="spacingAndGlyphs">0.63</text>
<text x="910.5" y="831.3" font-size="16.4" fill="#ff0000" text-anchor="middle" textLength="33.5" lengthAdjust="spacingAndGlyphs">0.63</text>
<defs><radialGradient id="cs" cx="0" cy="1" r="1"><stop offset="0" stop-color="#dedede" stop-opacity="0.8"/><stop offset="0.5" stop-color="#f0f0f0" stop-opacity="0.5"/><stop offset="1" stop-color="#ffffff" stop-opacity="0"/></radialGradient><linearGradient id="ls" x1="0" y1="0" x2="1" y2="0"><stop offset="0" stop-color="#e4e4e4" stop-opacity="0.8"/><stop offset="1" stop-color="#ffffff" stop-opacity="0"/></linearGradient><linearGradient id="lsv" x1="0" y1="0" x2="0" y2="1"><stop offset="0" stop-color="#fff" stop-opacity="0"/><stop offset="0.25" stop-color="#fff" stop-opacity="1"/></linearGradient><mask id="lm"><rect x="0" y="600" width="12" height="600" fill="url(#lsv)"/></mask></defs>
<rect x="0" y="600" width="5" height="592" fill="url(#ls)" mask="url(#lm)"/>
<rect x="0" y="1072" width="120" height="120" fill="url(#cs)"/>
<defs><linearGradient id="sb" x1="0" y1="0" x2="0" y2="1"><stop offset="0.25" stop-color="#dc241c"/><stop offset="0.75" stop-color="#bc231f"/></linearGradient></defs>
<rect x="39.0" y="925.1" width="5.7" height="12.8" fill="url(#sb)"/>
<rect x="46.1" y="915.2" width="5.9" height="22.7" fill="#dc241c"/>
<rect x="46.1" y="928.6" width="5.9" height="9.3" fill="#bc231f"/>
<rect x="53.4" y="901.1" width="5.7" height="36.8" fill="#dc241c"/>
<rect x="53.4" y="927.4" width="5.7" height="10.5" fill="#bc231f"/>
<rect x="60.7" y="925.1" width="6.0" height="12.8" fill="url(#sb)"/>
<rect x="68.2" y="915.2" width="5.8" height="22.7" fill="#dc241c"/>
<rect x="68.2" y="928.6" width="5.8" height="9.3" fill="#bc231f"/>
<line x1="110.3" y1="891" x2="110.3" y2="1188.6" stroke="#000" stroke-width="1.2"/>
<line x1="308.8" y1="891" x2="308.8" y2="1188.6" stroke="#000" stroke-width="1.2"/>
<line x1="5" y1="942.4" x2="951" y2="942.4" stroke="#000" stroke-width="1.25"/>
<line x1="5" y1="983.4" x2="951" y2="983.4" stroke="#000" stroke-width="1.25"/>
<line x1="5" y1="1024.4" x2="951" y2="1024.4" stroke="#000" stroke-width="1.25"/>
<line x1="5" y1="1065.5" x2="951" y2="1065.5" stroke="#000" stroke-width="1.25"/>
<line x1="5" y1="1106.4" x2="951" y2="1106.4" stroke="#000" stroke-width="1.25"/>
<line x1="5" y1="1147.7" x2="951" y2="1147.7" stroke="#000" stroke-width="1.25"/>
<text x="209.2" y="926.2" font-size="21.6" fill="#dd2211" font-weight="bold" text-anchor="middle" textLength="56.5" lengthAdjust="spacingAndGlyphs">Level</text>
<text x="629.8" y="926.2" font-size="21.6" fill="#dd2211" font-weight="bold" text-anchor="middle" textLength="107.5" lengthAdjust="spacingAndGlyphs">Rationale</text>
<rect x="35.2" y="955.9" width="14" height="14" fill="#953735"/>
<text x="59.8" y="970.2" font-size="20.2" fill="#111" textLength="21.4" lengthAdjust="spacingAndGlyphs">R3</text>
<text x="209.3" y="970.9" font-size="20.2" fill="#111" text-anchor="middle" textLength="61.7" lengthAdjust="spacingAndGlyphs">0.7471</text>
<text x="334" y="970.9" font-size="20.2" fill="#111" textLength="197.5" lengthAdjust="spacingAndGlyphs">Trend line; weekly R2</text>
<rect x="35.2" y="996.9" width="14" height="14" fill="#c99400"/>
<text x="59.8" y="1011.2" font-size="20.2" fill="#111" textLength="21.4" lengthAdjust="spacingAndGlyphs">R2</text>
<text x="209.3" y="1011.9" font-size="20.2" fill="#111" text-anchor="middle" textLength="94.4" lengthAdjust="spacingAndGlyphs">0.7337/74</text>
<text x="334" y="1011.9" font-size="20.2" fill="#111" textLength="230" lengthAdjust="spacingAndGlyphs">Weekly and monthly R1s</text>
<rect x="35.2" y="1037.9" width="14" height="14" fill="#ffc000"/>
<text x="59.8" y="1052.2" font-size="20.2" fill="#111" textLength="21.4" lengthAdjust="spacingAndGlyphs">R1</text>
<text x="209.3" y="1052.9" font-size="20.2" fill="#111" text-anchor="middle" textLength="61.7" lengthAdjust="spacingAndGlyphs">0.7316</text>
<text x="334" y="1052.9" font-size="20.2" fill="#111" textLength="133.5" lengthAdjust="spacingAndGlyphs">Bollinger band</text>
<rect x="35.2" y="1079.0" width="14" height="14" fill="#0000ff"/>
<text x="59.8" y="1093.3" font-size="20.2" fill="#111" textLength="21.4" lengthAdjust="spacingAndGlyphs">S1</text>
<text x="209.3" y="1094.0" font-size="20.2" fill="#111" text-anchor="middle" textLength="61.7" lengthAdjust="spacingAndGlyphs">0.7213</text>
<text x="334" y="1094.0" font-size="20.2" fill="#111" textLength="96" lengthAdjust="spacingAndGlyphs">Weekly PP</text>
<rect x="35.2" y="1119.9" width="14" height="14" fill="#4f81bd"/>
<text x="59.8" y="1134.2" font-size="20.2" fill="#111" textLength="21.4" lengthAdjust="spacingAndGlyphs">S2</text>
<text x="209.3" y="1134.9" font-size="20.2" fill="#111" text-anchor="middle" textLength="94.4" lengthAdjust="spacingAndGlyphs">0.7163/17</text>
<text x="334" y="1134.9" font-size="20.2" fill="#111" textLength="534.5" lengthAdjust="spacingAndGlyphs">Monthly PP; 38.20% Fibo; 20 and 55-day SMAs; trend line</text>
<rect x="35.2" y="1161.2" width="14" height="14" fill="#b8cce4"/>
<text x="59.8" y="1175.5" font-size="20.2" fill="#111" textLength="21.4" lengthAdjust="spacingAndGlyphs">S3</text>
<text x="209.3" y="1176.2" font-size="20.2" fill="#111" text-anchor="middle" textLength="61.7" lengthAdjust="spacingAndGlyphs">0.7078</text>
<text x="334" y="1176.2" font-size="20.2" fill="#111" textLength="95" lengthAdjust="spacingAndGlyphs">Weekly S1</text>
</svg>
</body></html>
